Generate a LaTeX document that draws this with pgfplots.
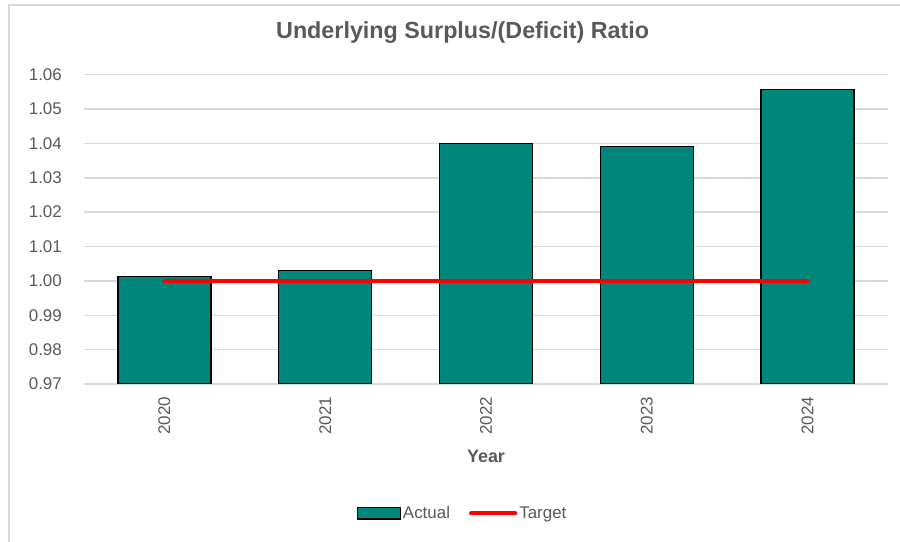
\documentclass[border=0pt]{standalone}
\usepackage{pgfplots}
\pgfplotsset{compat=1.18}
\usepackage{fontspec}
\setmainfont{Liberation Sans}
\definecolor{barteal}{RGB}{0,134,123}
\definecolor{txtgray}{RGB}{89,89,89}
\definecolor{gridgray}{RGB}{217,217,217}
\begin{document}
\begin{tikzpicture}
\useasboundingbox (0,0) rectangle (900bp,542bp);
% chart area border (only top and left edges show)
\draw[gridgray, line width=1.5bp] (9bp,-5bp) |- (905bp,537bp);
\begin{axis}[
	scale only axis,
	width=804bp, height=309.3bp,
	at={(84bp,158bp)}, anchor=south west,
	xmin=-0.5, xmax=4.5,
	ymin=0.97, ymax=1.06,
	xtick={0,1,2,3,4},
	xticklabels={2020,2021,2022,2023,2024},
	ytick={0.97,0.98,0.99,1.00,1.01,1.02,1.03,1.04,1.05,1.06},
	/pgf/number format/fixed,
	/pgf/number format/fixed zerofill,
	/pgf/number format/precision=2,
	/pgf/number format/assume math mode=true,
	yticklabel style={inner sep=0pt, xshift=-22bp, text=txtgray, font=\fontsize{17}{20}\selectfont},
	xticklabel style={rotate=90, anchor=east, inner sep=0pt, text=txtgray, font=\fontsize{17}{20}\selectfont},
	xticklabel shift=12.7bp,
	major tick length=0pt,
	axis line style={draw=none},
	ymajorgrids,
	major grid style={gridgray, line width=1.5bp},
	title={Underlying Surplus/(Deficit) Ratio},
	title style={at={(axis description cs:0.471,1.098)}, anchor=base, text=txtgray, font=\bfseries\fontsize{23.4}{26}\selectfont},
	xlabel={Year},
	xlabel style={at={(axis description cs:0.5,-0.235)}, anchor=center, text=txtgray, font=\bfseries\fontsize{18}{21}\selectfont},
	legend style={at={(axis description cs:0.471,-0.418)}, anchor=center, draw=none, fill=none,
		text=txtgray, font=\fontsize{17}{20}\selectfont, nodes={inner sep=2bp},
		/tikz/every even column/.append style={column sep=17bp}},
	legend columns=2,
]
\addplot[ybar, bar width=93bp, fill=barteal, draw=black, line width=1.3bp,
	legend image code/.code={\draw[fill=barteal, draw=black, line width=1.3bp] (0bp,-5.85bp) rectangle (42.7bp,5.85bp);}]
	coordinates {
	(0,1.0012)
	(1,1.0030)
	(2,1.0400)
	(3,1.0391)
	(4,1.0557)
};
\addlegendentry{Actual}
\addplot[sharp plot, red, line width=4.3bp, line cap=round, no markers,
	legend image code/.code={\draw[red, line width=4.3bp, line cap=round] (0bp,0bp) -- (44bp,0bp);}]
	coordinates {
	(0,1.00)
	(4,1.00)
};
\addlegendentry{Target}
\end{axis}
\end{tikzpicture}
\end{document}
